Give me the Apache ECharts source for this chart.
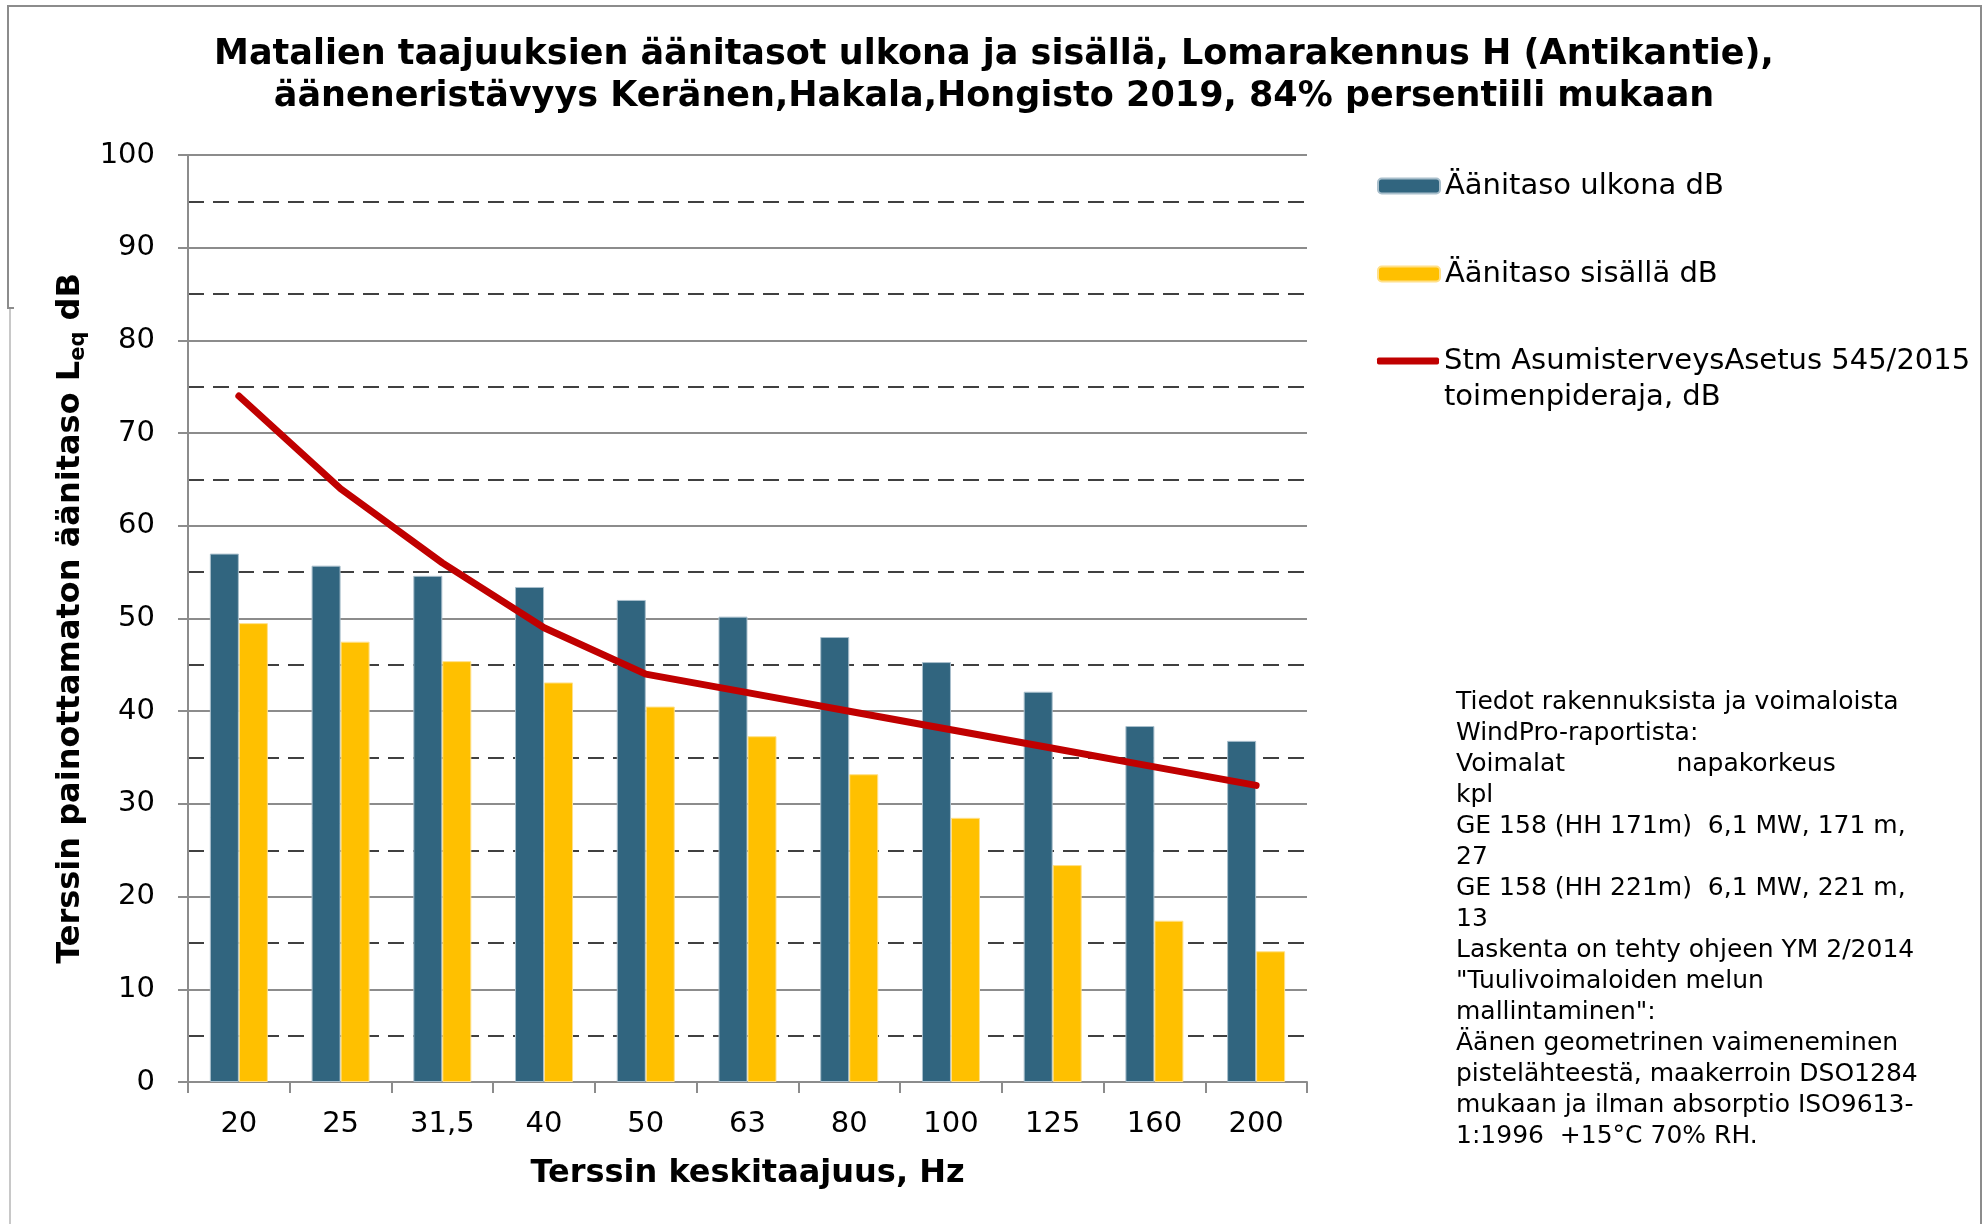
<!DOCTYPE html>
<html>
<head>
<meta charset="utf-8">
<script src="https://cdn.jsdelivr.net/npm/echarts@6/dist/echarts.min.js"></script>
<style>html,body{margin:0;padding:0;background:#fff;}#c{width:1988px;height:1224px;}</style>
</head>
<body>
<div id="c"></div>
<script>
const categories = ['20','25','31,5','40','50','63','80','100','125','160','200'];
const outdoor = [57.0, 55.7, 54.6, 53.4, 52.0, 50.2, 48.0, 45.3, 42.1, 38.4, 36.8];
const indoor = [49.5, 47.5, 45.4, 43.1, 40.5, 37.3, 33.2, 28.5, 23.4, 17.4, 14.1];
const limit = [74, 64, 56, 49, 44, 42, 40, 38, 36, 34, 32];
const seriesNames = ['Äänitaso ulkona dB', 'Äänitaso sisällä dB', 'Stm AsumisterveysAsetus 545/2015\ntoimenpideraja, dB'];
const titleText = 'Matalien taajuuksien äänitasot ulkona ja sisällä, Lomarakennus H (Antikantie),\nääneneristävyys Keränen,Hakala,Hongisto 2019, 84% persentiili mukaan';
const noteLines = [
  'Tiedot rakennuksista ja voimaloista',
  'WindPro-raportista:',
  'Voimalat              napakorkeus',
  'kpl',
  'GE 158 (HH 171m)  6,1 MW, 171 m,',
  '27',
  'GE 158 (HH 221m)  6,1 MW, 221 m,',
  '13',
  'Laskenta on tehty ohjeen YM 2/2014',
  '"Tuulivoimaloiden melun',
  'mallintaminen":',
  'Äänen geometrinen vaimeneminen',
  'pistelähteestä, maakerroin DSO1284',
  'mukaan ja ilman absorptio ISO9613-',
  '1:1996  +15°C 70% RH.'
];

const FONT = 'DejaVu Sans, Verdana, sans-serif';
const chart = echarts.init(document.getElementById('c'), null, {renderer: 'canvas'});
const legendBase = {
  left: 1377, orient: 'vertical', itemWidth: 62, itemHeight: 15, itemGap: 0, padding: 0,
  textStyle: {fontFamily: FONT, fontSize: 29, color: '#000', lineHeight: 36}
};
chart.setOption({
  backgroundColor: '#fff',
  animation: false,
  title: {
    text: titleText, left: 'center', top: 34, padding: 0,
    textStyle: {fontFamily: FONT, fontSize: 35, fontWeight: 'bold', color: '#000', lineHeight: 42}
  },
  legend: [
    Object.assign({}, legendBase, {top: 168, data: [seriesNames[0]]}),
    Object.assign({}, legendBase, {top: 256, data: [seriesNames[1]]}),
    Object.assign({}, legendBase, {top: 307, itemHeight: 7,
      data: [{name: seriesNames[2], icon: 'roundRect', itemStyle: {color: '#c00000'}}],
      formatter: function (n) { return '\n' + n; }})
  ],
  grid: {left: 188, right: 681, top: 155, bottom: 142, containLabel: false},
  xAxis: {
    type: 'category', data: categories, boundaryGap: true,
    name: 'Terssin keskitaajuus, Hz', nameLocation: 'middle', nameGap: 76,
    nameTextStyle: {fontFamily: FONT, fontSize: 32, fontWeight: 'bold', color: '#000'},
    axisLine: {lineStyle: {color: '#8c8c8c', width: 2}},
    axisTick: {show: true, length: 11, inside: false, lineStyle: {color: '#8c8c8c', width: 2}},
    axisLabel: {fontFamily: FONT, fontSize: 29, color: '#000', margin: 28, interval: 0},
    splitLine: {show: false}
  },
  yAxis: {
    type: 'value', min: 0, max: 100, interval: 10,
    name: 'Terssin painottamaton äänitaso L{sub|eq} dB', nameLocation: 'middle', nameGap: 98, nameRotate: 90,
    nameTextStyle: {fontFamily: FONT, fontSize: 32, fontWeight: 'bold', color: '#000',
      rich: {sub: {fontFamily: FONT, fontSize: 21, fontWeight: 'bold', color: '#000', padding: [16, 0, 0, 0]}}},
    axisLine: {show: true, lineStyle: {color: '#8c8c8c', width: 2}},
    axisTick: {show: true, length: 10, lineStyle: {color: '#8c8c8c', width: 2}},
    axisLabel: {fontFamily: FONT, fontSize: 29, color: '#000', margin: 33},
    splitLine: {show: true, lineStyle: {color: '#8c8c8c', width: 2}},
    minorTick: {show: false, splitNumber: 2},
    minorSplitLine: {show: true, lineStyle: {color: '#404040', width: 2, type: [16, 9]}}
  },
  series: [
    {name: seriesNames[0], type: 'bar', data: outdoor, barWidth: 29, barGap: '0%',
      itemStyle: {color: '#31657f', borderColor: '#a9bfcc', borderWidth: 1}},
    {name: seriesNames[1], type: 'bar', data: indoor, barWidth: 29, barGap: '0%',
      itemStyle: {color: '#ffc000', borderColor: '#ffe08a', borderWidth: 1}},
    {name: seriesNames[2], type: 'line', data: limit, symbol: 'none', z: 5,
      lineStyle: {color: '#c00000', width: 7, cap: 'round', join: 'round'},
      itemStyle: {color: '#c00000'}}
  ],
  graphic: [
    {type: 'polyline', silent: true, shape: {points: [[10, 1224], [10, 308]]}, style: {stroke: '#c8c8c8', lineWidth: 2, fill: null}},
    {type: 'polyline', silent: true, shape: {points: [[14, 308], [8, 308], [8, 6], [1981, 6], [1981, 1224]]}, style: {stroke: '#8c8c8c', lineWidth: 2, fill: null}},
    {type: 'text', left: 1456, top: 687, silent: true,
      style: {text: noteLines.join('\n'), fontFamily: FONT, fontSize: 25, lineHeight: 31, fill: '#000'}}
  ]
});
</script>
</body>
</html>
